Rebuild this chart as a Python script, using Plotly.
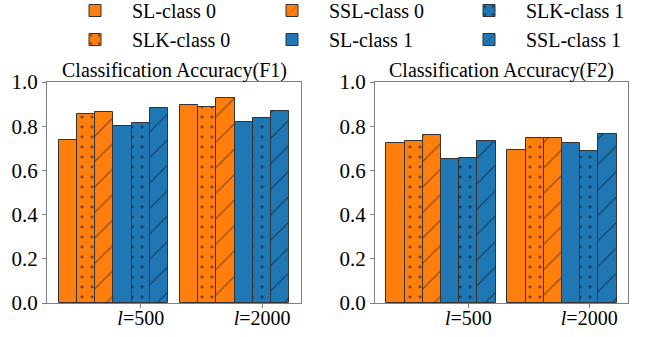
import plotly.graph_objects as go

# Accuracy per method/class for the two training sizes (l=500, l=2000)
sizes = ["<i>l</i>=500", "<i>l</i>=2000"]
series_names = ["SL-class 0", "SLK-class 0", "SSL-class 0",
                "SL-class 1", "SLK-class 1", "SSL-class 1"]

f1_sl_c0 = [0.737, 0.894]
f1_slk_c0 = [0.855, 0.888]
f1_ssl_c0 = [0.863, 0.926]
f1_sl_c1 = [0.800, 0.817]
f1_slk_c1 = [0.814, 0.836]
f1_ssl_c1 = [0.884, 0.869]

f2_sl_c0 = [0.723, 0.694]
f2_slk_c0 = [0.733, 0.745]
f2_ssl_c0 = [0.759, 0.745]
f2_sl_c1 = [0.653, 0.724]
f2_slk_c1 = [0.657, 0.689]
f2_ssl_c1 = [0.733, 0.765]

f1_values = [f1_sl_c0, f1_slk_c0, f1_ssl_c0, f1_sl_c1, f1_slk_c1, f1_ssl_c1]
f2_values = [f2_sl_c0, f2_slk_c0, f2_ssl_c0, f2_sl_c1, f2_slk_c1, f2_ssl_c1]

ORANGE = "#ff7f0e"
BLUE = "#1f77b4"
styles = [
    (ORANGE, ""), (ORANGE, "."), (ORANGE, "/"),
    (BLUE, ""), (BLUE, "."), (BLUE, "/"),
]
# legend shows three columns filled top-to-bottom
legend_rank = [1, 4, 2, 5, 3, 6]

FONT = "Times New Roman, Liberation Serif, serif"
group_start = [0.0, 6.64]
bar_w = 1.0

fig = go.Figure()


def add_panel(values, xa, ya, show_legend):
    for k, (name, vals) in enumerate(zip(series_names, values)):
        color, shape = styles[k]
        xs = [g + k * bar_w for g in group_start]
        pattern = dict(shape=shape, fillmode="overlay", bgcolor=color,
                       fgcolor="#000000", size=18 if shape == "/" else 10,
                       solidity=0.06 if shape == "/" else 0.07)
        fig.add_trace(go.Bar(
            x=xs, y=vals, width=bar_w, name=name, legendgroup=name,
            showlegend=show_legend, legendrank=legend_rank[k],
            marker=dict(color=color, pattern=pattern,
                        line=dict(color="#333333", width=1)),
            xaxis=xa, yaxis=ya,
        ))


add_panel(f1_values, "x", "y", True)
add_panel(f2_values, "x2", "y2", False)

tick_pos = [g + 4 * bar_w for g in group_start]
xcommon = dict(range=[-1.13, 12.77], tickvals=tick_pos, ticktext=sizes,
               showline=True, mirror=True, linecolor="#808080", linewidth=1,
               ticks="outside", ticklen=4, tickcolor="#808080",
               ticklabelstandoff=-7,
               showgrid=False, zeroline=False,
               tickfont=dict(family=FONT, size=20, color="black"))
ycommon = dict(range=[0, 1], dtick=0.2, tickformat=".1f",
               showline=True, mirror=True, linecolor="#808080", linewidth=1,
               ticks="outside", ticklen=4, tickcolor="#808080",
               showgrid=False, zeroline=False,
               tickfont=dict(family=FONT, size=21, color="black"))

title_font = dict(family=FONT, size=20, color="black")

fig.update_layout(
    width=657, height=337,
    margin=dict(l=0, r=0, t=0, b=0, autoexpand=False),
    plot_bgcolor="white", paper_bgcolor="white",
    barmode="overlay", bargap=0,
    xaxis=dict(domain=[47 / 657, 301 / 657], anchor="y", **xcommon),
    yaxis=dict(domain=[1 - 303 / 337, 1 - 82 / 337], anchor="x", **ycommon),
    xaxis2=dict(domain=[375 / 657, 628 / 657], anchor="y2", **xcommon),
    yaxis2=dict(domain=[1 - 303 / 337, 1 - 82 / 337], anchor="x2", **ycommon),
    legend=dict(orientation="h", x=58 / 657, xanchor="left",
                y=1 + 9 / 337, yanchor="top",
                itemwidth=64, entrywidth=118, entrywidthmode="pixels",
                font=dict(family=FONT, size=20, color="black"),
                bgcolor="rgba(0,0,0,0)", traceorder="normal"),
    annotations=[
        dict(text="Classification Accuracy(F1)", x=174 / 657, y=1 - 70 / 337,
             xref="paper", yref="paper", xanchor="center", yanchor="middle",
             showarrow=False, font=title_font),
        dict(text="Classification Accuracy(F2)", x=501.5 / 657, y=1 - 70 / 337,
             xref="paper", yref="paper", xanchor="center", yanchor="middle",
             showarrow=False, font=title_font),
    ],
)

fig.write_html("out.html")
